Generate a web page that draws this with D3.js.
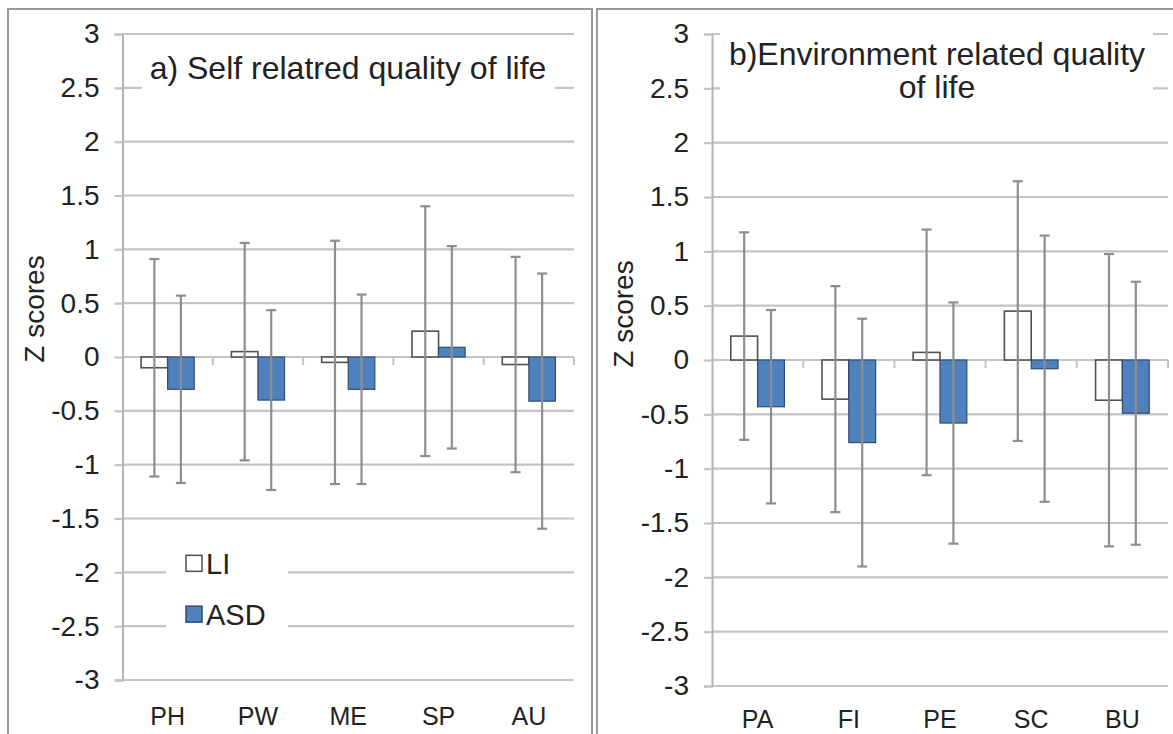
<!DOCTYPE html>
<html>
<head>
<meta charset="utf-8">
<script src="https://cdn.jsdelivr.net/npm/d3@7"></script>
<style>
  html, body { margin: 0; padding: 0; background: #ffffff; }
  svg { display: block; font-family: "Liberation Sans", Arial, sans-serif; }
</style>
</head>
<body>
<svg id="chart" width="1173" height="734"></svg>
<script>
// ---------- data ----------
const seriesNames = ["LI", "ASD"];
const yTicks = [3, 2.5, 2, 1.5, 1, 0.5, 0, -0.5, -1, -1.5, -2, -2.5, -3];

const selfCategories = ["PH", "PW", "ME", "SP", "AU"];
const selfLI = [-0.10, 0.05, -0.05, 0.24, -0.07];
const selfASD = [-0.30, -0.40, -0.30, 0.09, -0.41];
const selfLIsd = [1.01, 1.01, 1.13, 1.16, 1.00];
const selfASDsd = [0.87, 0.835, 0.88, 0.94, 1.185];

const envCategories = ["PA", "FI", "PE", "SC", "BU"];
const envLI = [0.22, -0.36, 0.07, 0.45, -0.37];
const envASD = [-0.43, -0.76, -0.58, -0.08, -0.49];
const envLIsd = [0.955, 1.04, 1.13, 1.195, 1.345];
const envASDsd = [0.89, 1.14, 1.11, 1.225, 1.21];

const titleA = ["a) Self relatred quality of life"];
const titleB = ["b)Environment related quality", "of life"];
const yLabel = "Z scores";

// ---------- style ----------
const GRID = "#c4c4c4";
const AXIS = "#b4b4b4";
const ERR = "#8e8e8e";
const ASD_FILL = "#4f81bd";
const ASD_STROKE = "#2c4d75";
const LI_STROKE = "#505050";
const TEXT = "#222222";

const svg = d3.select("#chart");

// panel frames
function frame(x, y, w, h) {
  svg.append("rect").attr("x", x).attr("y", y).attr("width", w).attr("height", h)
    .attr("fill", "#ffffff").attr("stroke", "#9a9a9a").attr("stroke-width", 2);
}
frame(8, 9, 584, 740);
frame(597, 9, 590, 740);

function drawPanel(opts) {
  const g = svg.append("g");
  const y = d3.scaleLinear().domain([-3, 3]).range([opts.yBottom, opts.yTop]);
  const x = d3.scaleBand().domain(opts.categories).range([opts.x0, opts.x1]).padding(0);
  const xs = d3.scaleBand().domain(seriesNames).range([0, x.bandwidth()])
    .paddingInner(0).paddingOuter(0.7);

  // gridlines
  g.append("g").selectAll("line").data(yTicks).join("line")
    .attr("x1", opts.x0).attr("x2", opts.x1)
    .attr("y1", d => y(d)).attr("y2", d => y(d))
    .attr("stroke", GRID).attr("stroke-width", 2.2);

  // y axis
  const yAxis = d3.axisLeft(y).tickValues(yTicks).tickSize(8).tickPadding(15)
    .tickFormat(d => String(d));
  const ya = g.append("g").attr("transform", `translate(${opts.x0},0)`).call(yAxis);
  ya.select(".domain").attr("stroke", AXIS).attr("stroke-width", 2);
  ya.selectAll(".tick line").attr("stroke", GRID).attr("stroke-width", 2.2);
  ya.selectAll(".tick text").attr("fill", TEXT).attr("font-size", 28)
    .attr("font-family", "Liberation Sans, Arial, sans-serif");

  // category boundary ticks on zero line
  const bounds = opts.categories.map(c => x(c) + x.bandwidth());
  g.append("g").selectAll("line").data(bounds).join("line")
    .attr("x1", d => d).attr("x2", d => d)
    .attr("y1", y(0)).attr("y2", y(0) + 8)
    .attr("stroke", GRID).attr("stroke-width", 2);

  // category labels (low position)
  const xAxis = d3.axisBottom(x).tickSize(0).tickPadding(opts.labelPad);
  const xa = g.append("g").attr("transform", `translate(0,${opts.yBottom})`).call(xAxis);
  xa.select(".domain").remove();
  xa.selectAll(".tick text").attr("fill", TEXT).attr("font-size", 25)
    .attr("font-family", "Liberation Sans, Arial, sans-serif");

  // title box (covers gridlines)
  g.append("rect").attr("x", opts.titleBox[0]).attr("y", opts.titleBox[1])
    .attr("width", opts.titleBox[2]).attr("height", opts.titleBox[3]).attr("fill", "#ffffff");
  const tt = g.append("text").attr("text-anchor", "middle").attr("fill", TEXT)
    .attr("font-size", opts.titleSize);
  opts.title.forEach((line, i) => {
    tt.append("tspan").attr("x", opts.titleX).attr("y", opts.titleY + i * opts.titleLH).text(line);
  });

  // y label
  g.append("text").attr("transform", `translate(${opts.yLabelX},${opts.yLabelY}) rotate(-90)`)
    .attr("text-anchor", "middle").attr("fill", TEXT).attr("font-size", 28).text(yLabel);

  // bars
  const rows = opts.categories.map((c, i) => [
    { cat: c, s: "LI", v: opts.li[i], sd: opts.liSd[i] },
    { cat: c, s: "ASD", v: opts.asd[i], sd: opts.asdSd[i] }
  ]).flat();

  g.append("g").selectAll("rect").data(rows).join("rect")
    .attr("x", d => x(d.cat) + xs(d.s))
    .attr("width", xs.bandwidth())
    .attr("y", d => y(Math.max(0, d.v)))
    .attr("height", d => Math.abs(y(d.v) - y(0)))
    .attr("fill", d => d.s === "ASD" ? ASD_FILL : "#ffffff")
    .attr("stroke", d => d.s === "ASD" ? ASD_STROKE : LI_STROKE)
    .attr("stroke-width", d => d.s === "ASD" ? 1.2 : 1.6);

  // error bars
  const eg = g.append("g");
  const cx = d => x(d.cat) + xs(d.s) + xs.bandwidth() / 2;
  eg.selectAll("line.v").data(rows).join("line").attr("class", "v")
    .attr("x1", cx).attr("x2", cx)
    .attr("y1", d => y(d.v + d.sd)).attr("y2", d => y(d.v - d.sd))
    .attr("stroke", ERR).attr("stroke-width", 2.2);
  eg.selectAll("line.t").data(rows).join("line").attr("class", "t")
    .attr("x1", d => cx(d) - 5).attr("x2", d => cx(d) + 5)
    .attr("y1", d => y(d.v + d.sd)).attr("y2", d => y(d.v + d.sd))
    .attr("stroke", ERR).attr("stroke-width", 2.2);
  eg.selectAll("line.b").data(rows).join("line").attr("class", "b")
    .attr("x1", d => cx(d) - 5).attr("x2", d => cx(d) + 5)
    .attr("y1", d => y(d.v - d.sd)).attr("y2", d => y(d.v - d.sd))
    .attr("stroke", ERR).attr("stroke-width", 2.2);

  return { x, y };
}

const pA = drawPanel({
  categories: selfCategories, li: selfLI, asd: selfASD, liSd: selfLIsd, asdSd: selfASDsd,
  x0: 122.5, x1: 574, yTop: 34, yBottom: 680, labelPad: 27,
  title: titleA, titleX: 348, titleY: 79, titleLH: 33, titleSize: 32,
  titleBox: [142, 46, 413, 62],
  yLabelX: 44, yLabelY: 309
});

const pB = drawPanel({
  categories: envCategories, li: envLI, asd: envASD, liSd: envLIsd, asdSd: envASDsd,
  x0: 712, x1: 1168, yTop: 34, yBottom: 686, labelPad: 24,
  title: titleB, titleX: 937, titleY: 65, titleLH: 33, titleSize: 32,
  titleBox: [720, 26, 433, 84],
  yLabelX: 633, yLabelY: 314
});

// legend (left panel)
const ly = pA.y;
const legend = svg.append("g");
legend.append("rect").attr("x", 166).attr("y", ly(-2) - 30).attr("width", 122)
  .attr("height", ly(-2.5) - ly(-2) + 50).attr("fill", "#ffffff");
const legendItems = [
  { name: seriesNames[0], fill: "#ffffff", stroke: LI_STROKE, cy: ly(-2) - 9 },
  { name: seriesNames[1], fill: ASD_FILL, stroke: ASD_STROKE, cy: ly(-2.5) - 12 }
];
const li = legend.selectAll("g").data(legendItems).join("g");
li.append("rect").attr("x", 186).attr("y", d => d.cy - 8).attr("width", 16).attr("height", 16)
  .attr("fill", d => d.fill).attr("stroke", d => d.stroke).attr("stroke-width", 1.5);
li.append("text").attr("x", 206).attr("y", d => d.cy).attr("dy", "0.36em")
  .attr("fill", TEXT).attr("font-size", 29).text(d => d.name);
</script>
</body>
</html>
